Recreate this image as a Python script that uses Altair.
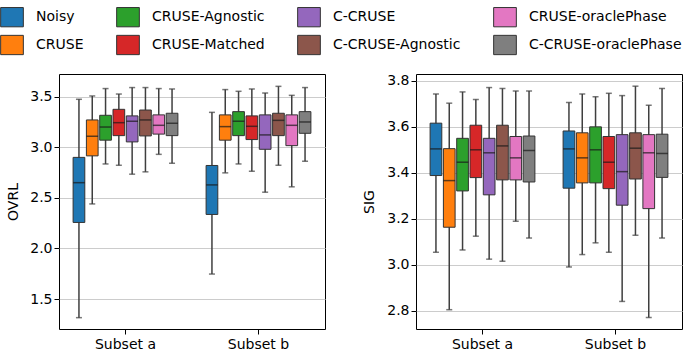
import altair as alt
import pandas as pd

models = ["Noisy", "CRUSE", "CRUSE-Agnostic", "CRUSE-Matched", "C-CRUSE",
          "C-CRUSE-Agnostic", "CRUSE-oraclePhase", "C-CRUSE-oraclePhase"]
colors = ["#1f77b4", "#ff7f0e", "#2ca02c", "#d62728", "#9467bd",
          "#8c564b", "#e377c2", "#7f7f7f"]
subsets = ["Subset a", "Subset b"]

# OVRL box statistics (whisker low, Q1, median, Q3, whisker high) per model
ovrl_lo_a = [1.316, 2.440, 2.835, 2.822, 2.734, 2.757, 2.930, 2.842]
ovrl_q1_a = [2.257, 2.915, 3.070, 3.115, 3.053, 3.112, 3.130, 3.115]
ovrl_med_a = [2.650, 3.110, 3.200, 3.243, 3.257, 3.270, 3.217, 3.237]
ovrl_q3_a = [2.900, 3.270, 3.316, 3.375, 3.310, 3.368, 3.320, 3.336]
ovrl_hi_a = [3.474, 3.507, 3.580, 3.526, 3.590, 3.590, 3.580, 3.576]
ovrl_lo_b = [1.747, 2.747, 2.835, 2.763, 2.556, 2.822, 2.609, 2.862]
ovrl_q1_b = [2.336, 3.070, 3.115, 3.076, 2.980, 3.115, 3.016, 3.138]
ovrl_med_b = [2.628, 3.204, 3.257, 3.207, 3.122, 3.266, 3.217, 3.250]
ovrl_q3_b = [2.820, 3.320, 3.352, 3.310, 3.320, 3.336, 3.320, 3.352]
ovrl_hi_b = [3.345, 3.570, 3.553, 3.576, 3.536, 3.602, 3.513, 3.590]

# SIG box statistics
sig_lo_a = [3.054, 2.804, 3.064, 3.124, 3.024, 3.015, 3.189, 3.116]
sig_q1_a = [3.388, 3.163, 3.321, 3.379, 3.304, 3.369, 3.369, 3.360]
sig_med_a = [3.504, 3.366, 3.446, 3.500, 3.487, 3.517, 3.465, 3.497]
sig_q3_a = [3.616, 3.505, 3.550, 3.607, 3.550, 3.607, 3.558, 3.560]
sig_hi_a = [3.743, 3.703, 3.752, 3.719, 3.771, 3.767, 3.756, 3.756]
sig_lo_b = [2.990, 3.044, 3.095, 3.054, 2.840, 3.128, 2.770, 3.116]
sig_q1_b = [3.333, 3.356, 3.356, 3.331, 3.259, 3.373, 3.244, 3.380]
sig_med_b = [3.504, 3.465, 3.500, 3.446, 3.405, 3.507, 3.487, 3.484]
sig_q3_b = [3.582, 3.574, 3.600, 3.558, 3.566, 3.574, 3.566, 3.568]
sig_hi_b = [3.706, 3.743, 3.731, 3.746, 3.736, 3.777, 3.694, 3.767]

ovrl_ticks = [1.5, 2.0, 2.5, 3.0, 3.5]
sig_ticks = [2.8, 3.0, 3.2, 3.4, 3.6, 3.8]


def build(stats):
    rows = []
    for subset, (lo, q1, med, q3, hi) in zip(subsets, stats):
        for i, m in enumerate(models):
            rows.append(dict(subset=subset, model=m, lo=lo[i], q1=q1[i],
                             med=med[i], q3=q3[i], hi=hi[i]))
    return pd.DataFrame(rows)


ovrl_df = build([(ovrl_lo_a, ovrl_q1_a, ovrl_med_a, ovrl_q3_a, ovrl_hi_a),
                 (ovrl_lo_b, ovrl_q1_b, ovrl_med_b, ovrl_q3_b, ovrl_hi_b)])
sig_df = build([(sig_lo_a, sig_q1_a, sig_med_a, sig_q3_a, sig_hi_a),
                (sig_lo_b, sig_q1_b, sig_med_b, sig_q3_b, sig_hi_b)])

legend_rect = "M-1,-0.85H1V0.85H-1Z"


def panel(df, title, domain, ticks, title_pad):
    x = alt.X("subset:N", sort=subsets,
              scale=alt.Scale(paddingInner=0.2, paddingOuter=0.1),
              axis=alt.Axis(title=None, labelAngle=0, bandPosition=0.5,
                            grid=False, labelPadding=3))
    xo = alt.XOffset("model:N", sort=models,
                     scale=alt.Scale(paddingInner=0.12, paddingOuter=0.06))
    ysc = alt.Scale(domain=domain, nice=False, zero=False)
    yax = alt.Axis(title=title, values=ticks, format=".1f", grid=True,
                   minExtent=34, maxExtent=34, titlePadding=title_pad)

    def Y(f):
        return alt.Y(f, scale=ysc, axis=yax)

    base = alt.Chart(df)
    whisk = base.mark_rule(color="#3f3f3f", strokeWidth=1.5).encode(
        x=x, xOffset=xo, y=Y("lo:Q"), y2="hi:Q")
    caps = base.transform_fold(["lo", "hi"], as_=["k", "v"]).mark_tick(
        color="#3f3f3f", thickness=1.5, size=6, orient="horizontal").encode(
        x=x, xOffset=xo, y=Y("v:Q"))
    box = base.mark_bar(stroke="#333333", strokeWidth=1).encode(
        x=x, xOffset=xo, y=Y("q1:Q"), y2="q3:Q",
        color=alt.Color("model:N",
                        scale=alt.Scale(domain=models, range=colors),
                        legend=alt.Legend(title=None, orient="none",
                                          legendX=-59, legendY=-69,
                                          columns=4, symbolType=legend_rect,
                                          symbolSize=515,
                                          symbolStrokeColor="#333333",
                                          symbolStrokeWidth=1,
                                          symbolOpacity=1,
                                          columnPadding=30, rowPadding=4,
                                          labelOffset=12, padding=0)))
    med = base.mark_tick(color="#1a1a1a", thickness=1.5, size=11.7,
                         orient="horizontal").encode(
        x=x, xOffset=xo, y=Y("med:Q"))
    return alt.layer(whisk, caps, box, med).properties(width=266, height=255)


left = panel(ovrl_df, "OVRL", [1.204, 3.724], ovrl_ticks, 5)
right = panel(sig_df, "SIG", [2.72, 3.83], sig_ticks, 6)

chart = alt.hconcat(left, right, spacing=35).properties(
    padding={"left": 0, "top": 5, "right": 0, "bottom": 0}
).configure_view(stroke="black", strokeWidth=1).configure_axis(
    labelFont="DejaVu Sans", labelFontSize=14, titleFont="DejaVu Sans",
    titleFontSize=14, titleFontWeight="normal", labelColor="black",
    titleColor="black", tickColor="black", domain=False, tickSize=5,
    tickWidth=1, gridColor="#cccccc", gridWidth=1
).configure_legend(
    labelFont="DejaVu Sans", labelFontSize=14, labelColor="black",
    labelLimit=300
)

chart.save("out.html", embed_options={"renderer": "svg", "actions": False})
